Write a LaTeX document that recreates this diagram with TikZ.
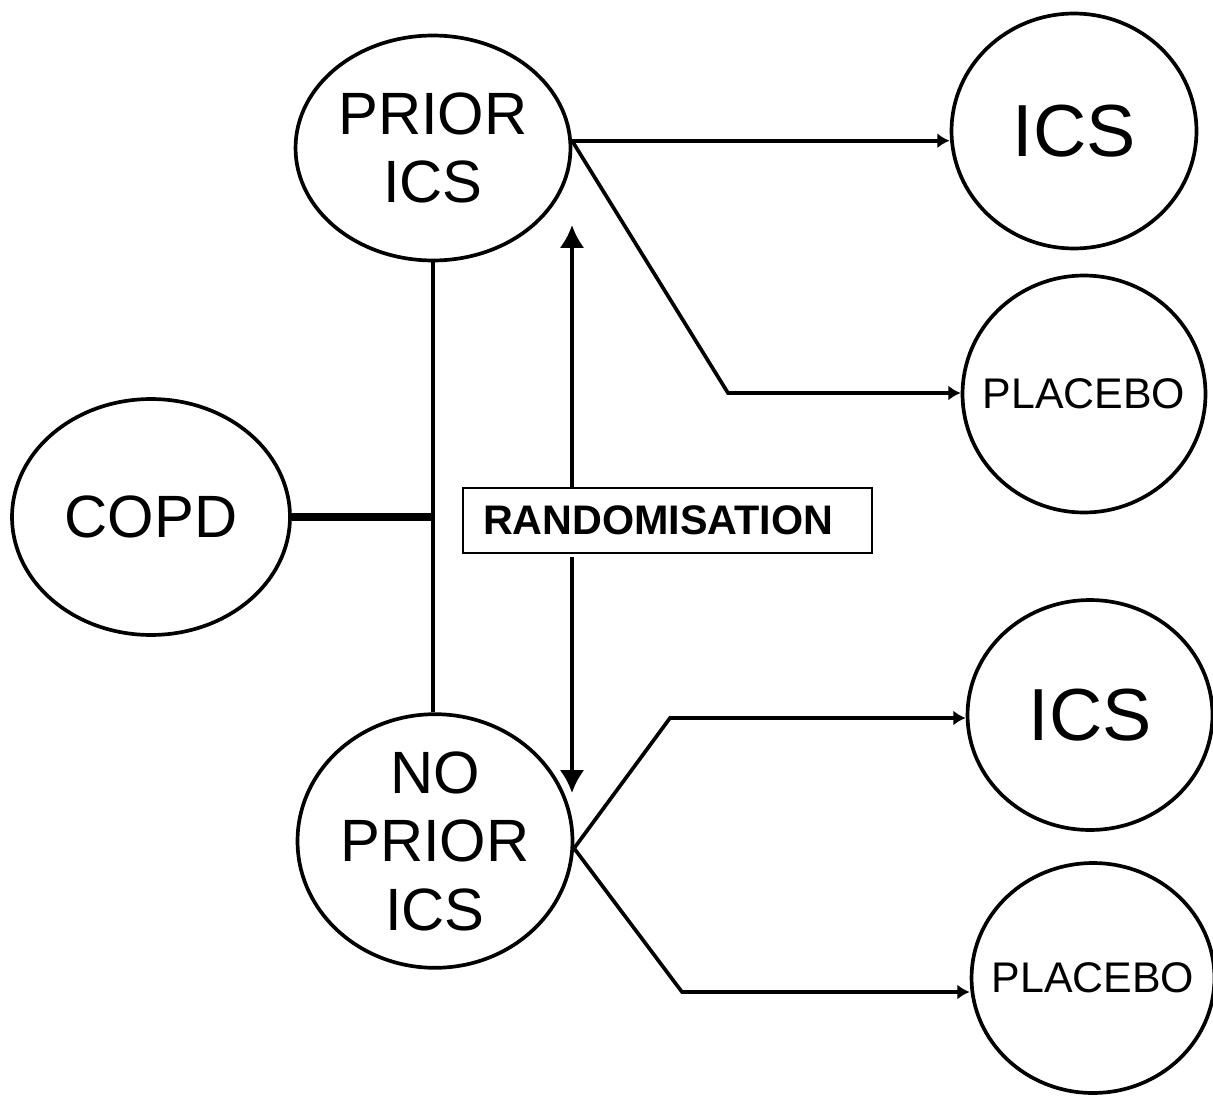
\documentclass[tikz,border=0pt]{standalone}
\usepackage{fontspec}
\setmainfont{Liberation Sans}
\usetikzlibrary{shapes.geometric,arrows.meta}

\begin{document}
\begin{tikzpicture}[x=0.02cm,y=-0.02cm,line width=2.1pt,
    arm/.style={-{Latex[length=7pt,width=8.5pt]}},
    dbl/.style={-{Latex[length=13pt,width=14pt]}}]

      \useasboundingbox (0,0) rectangle (1213,1095);

      \begin{scope}[every node/.style={ellipse,draw,inner sep=0pt,align=center,
          font=\fontsize{34}{39}\selectfont}]
        \node[minimum width=5.5cm,minimum height=4.5cm]  (prior)   at (433,148) {PRIOR\\ICS};
        \node[minimum width=5.5cm,minimum height=5.0cm]  (noprior) at (435,841) {NO\\PRIOR\\ICS};
        \node[minimum width=5.56cm,minimum height=4.72cm] (copd)   at (151,517) {COPD};
        \node[minimum width=4.9cm,minimum height=4.7cm,font=\fontsize{42}{48}\selectfont]
          (ics1) at (1074,131) {ICS};
        \node[minimum width=4.86cm,minimum height=4.74cm,font=\fontsize{24.4}{29}\selectfont]
          (plac1) at (1084,394) {\makebox[0pt]{PLACEBO}};
        \node[minimum width=4.9cm,minimum height=4.6cm,font=\fontsize{42}{48}\selectfont]
          (ics2) at (1090,715) {ICS};
        \node[minimum width=4.86cm,minimum height=4.6cm,font=\fontsize{24.4}{29}\selectfont]
          (plac2) at (1093,978) {\makebox[0pt]{PLACEBO}};
      \end{scope}

      \node[draw,fill=white,line width=1pt,minimum width=8.18cm,minimum height=1.3cm,
        inner xsep=0.4cm,text width=7.38cm,align=left,
        font=\bfseries\fontsize{23.5}{27}\selectfont] (rand) at (667.5,520.5) {RANDOMISATION};

      \coordinate (k1)  at (728,393);
      \coordinate (k2)  at (670,718);
      \coordinate (k3)  at (682,992);
      \coordinate (top) at (572,225);
      \coordinate (bot) at (572,793);

      \draw (prior.south) -- (noprior.north -| prior.south);
      \draw[line width=4.5pt] (copd.east) -- (copd.east -| prior.south);

      \draw[arm] (prior.3) -- (ics1.west |- prior.3);
      \draw[arm] (prior.3) -- (k1) -- (plac1.west |- k1);
      \draw[arm] (noprior.-3) -- (k2) -- (ics2.west |- k2);
      \draw[arm] (noprior.-3) -- (k3) -- (plac2.west |- k3);

      \draw[dbl] (rand.north -| top) -- (top);
      \draw[dbl,shorten <=2pt] (rand.south -| bot) -- (bot);

    \end{tikzpicture}
\end{document}
